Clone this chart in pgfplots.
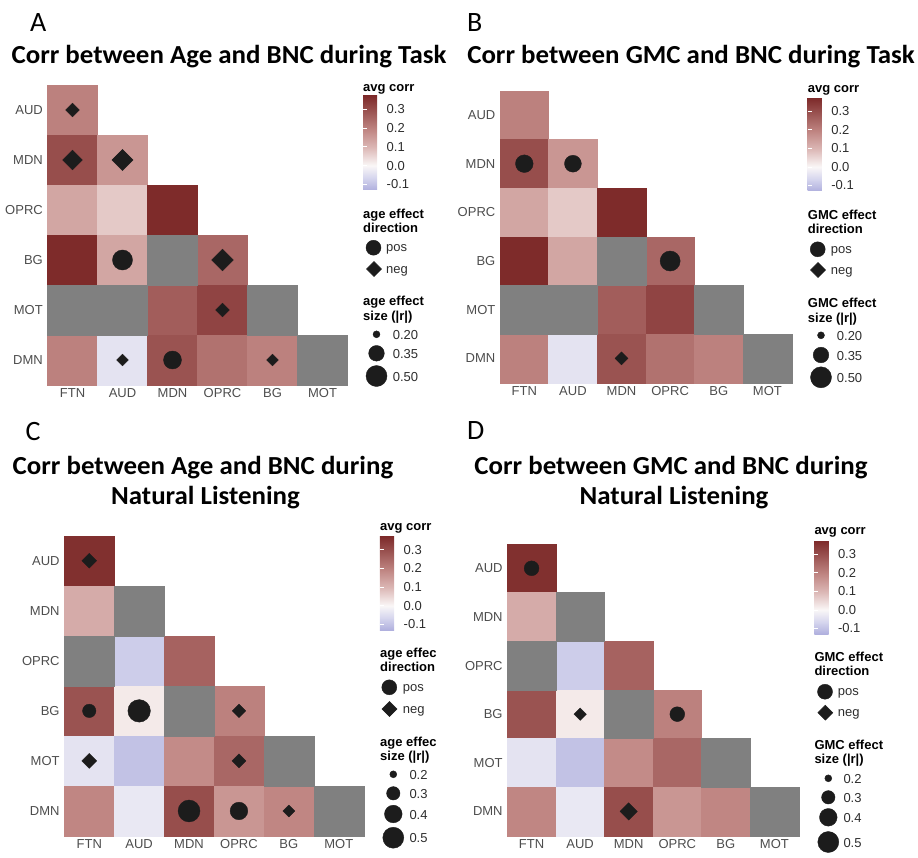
\documentclass[border=0pt]{standalone}
\usepackage{fontspec}
\setmainfont{Liberation Sans}
\newfontfamily\cali{Carlito}
\newfontfamily\calit{Carlito}[FakeStretch=1.035]
\usepackage{pgfplots}
\usepackage{pgfplotstable}
\pgfplotsset{compat=1.18}
\definecolor{mk}{RGB}{28,28,28}
\definecolor{na}{RGB}{128,128,128}
\definecolor{tickc}{RGB}{77,77,77}
\definecolor{legc}{RGB}{45,45,45}
\newcommand{\lab}{\fontsize{13}{15}\selectfont}
\newcommand{\ttl}{\calit\bfseries\fontsize{26}{30}\selectfont}
\newcommand{\letr}{\cali\fontsize{28}{32}\selectfont}

\pgfplotsset{
  colormap={corr}{[1pt] rgb255(0pt)=(176,176,222); rgb255(13pt)=(214,214,238); rgb255(26pt)=(250,247,247); rgb255(45pt)=(220,184,182); rgb255(64pt)=(192,134,131); rgb255(82pt)=(158,88,86); rgb255(101pt)=(124,40,40)},
  hm/.style={
    scale only axis, clip=false, anchor=north west,
    xmin=-0.5, xmax=5.5, ymin=-0.5, ymax=5.5, y dir=reverse,
    axis line style={draw=none}, major tick length=0pt,
    xtick={0,...,5}, ytick={0,...,5},
    xticklabels={FTN,AUD,MDN,OPRC,BG,MOT},
    yticklabels={AUD,MDN,OPRC,BG,MOT,DMN},
    xticklabel style={font=\lab, text=tickc, inner sep=0pt, yshift=-3.5pt},
    yticklabel style={font=\lab, text=tickc, inner sep=0pt, xshift=-4.5pt},
    colormap name=corr, point meta min=-0.13, point meta max=0.375,
    colorbar,
    colorbar style={
      at={(parent axis.north east)}, anchor=north west,
      scale only axis, width=19pt,
      ytick={-0.1,0,0.1,0.2,0.3}, yticklabels={-0.1,0.0,0.1,0.2,0.3},
      tick align=inside, major tick length=4pt, ytick pos=both, yticklabel pos=right,
      yticklabel style={font=\lab, text=legc, inner sep=0pt, xshift=4.5pt},
      tick style={draw=white, line width=0.6pt},
      axis line style={draw=none},
    },
  },
  hcells/.style={only marks, scatter, point meta=\thisrow{v}, mark=square*, mark size=#1,
    scatter/use mapped color={draw=mapped color, fill=mapped color}, mark options={line width=0.3pt}},
  nacells/.style={only marks, mark=square*, mark size=#1, color=na, mark options={line width=0.3pt}},
  sz/.style={only marks, scatter, point meta=\thisrow{s}, scatter/use mapped color={draw=mk, fill=mk},
    visualization depends on={\thisrow{s}\as\es},
    scatter/@pre marker code/.append style={/tikz/mark size={sqrt(49+1306.7*(\es-0.2))/#1}}},
  posm/.style={sz=2, mark=*},
  negm/.style={sz=2.8284, mark=square*, mark options={rotate=45}},
}

\pgfplotstableread{
c r v
0 0 0.20
0 1 0.30
1 1 0.16
0 2 0.13
1 2 0.07
2 2 0.37
0 3 0.37
1 3 0.13
3 3 0.25
2 4 0.27
3 4 0.32
0 5 0.20
1 5 -0.04
2 5 0.29
3 5 0.23
4 5 0.20
}\taskcells
\pgfplotstableread{
c r
2 3
0 4
1 4
4 4
5 5
}\taskna
\pgfplotstableread{
c r v
0 0 0.36
0 1 0.12
1 2 -0.08
2 2 0.26
0 3 0.29
1 3 0.02
3 3 0.20
0 4 -0.04
1 4 -0.10
2 4 0.18
3 4 0.25
0 5 0.19
1 5 -0.03
2 5 0.30
3 5 0.16
4 5 0.19
}\natcells
\pgfplotstableread{
c r
1 1
0 2
2 3
4 4
5 5
}\natna

\begin{document}
\begin{tikzpicture}
\useasboundingbox (0,0) rectangle (918pt,857pt);

% ---------- Panel A ----------
\begin{axis}[hm, at={(47.5pt,772pt)}, width=300pt, height=300pt,
  colorbar style={xshift=6.96pt, yshift=-10pt, height=95pt}]
\addplot[hcells=25pt] table[x=c,y=r] {\taskcells};
\addplot[nacells=25pt] table[x=c,y=r] {\taskna};
\addplot[posm] table[x=c,y=r] {
c r s
1 3 0.47
2 5 0.41
};
\addplot[negm] table[x=c,y=r] {
c r s
0 0 0.31
0 1 0.46
1 1 0.50
3 3 0.52
3 4 0.31
1 5 0.27
4 5 0.27
};
\end{axis}

% ---------- Panel B ----------
\begin{axis}[hm, at={(500pt,766.3pt)}, width=291.7pt, height=292pt,
  colorbar style={xshift=7.46pt, yshift=-6.6pt, height=93.7pt}]
\addplot[hcells=24.33pt] table[x=c,y=r] {\taskcells};
\addplot[nacells=24.33pt] table[x=c,y=r] {\taskna};
\addplot[posm] table[x=c,y=r] {
c r s
0 1 0.40
1 1 0.38
3 3 0.47
};
\addplot[negm] table[x=c,y=r] {
c r s
2 5 0.29
};
\end{axis}

% ---------- Panel C ----------
\begin{axis}[hm, at={(64.3pt,321.3pt)}, width=299.4pt, height=300.3pt,
  colorbar style={xshift=7.76pt, yshift=0pt, height=94.3pt}]
\addplot[hcells=24.97pt] table[x=c,y=r] {\natcells};
\addplot[nacells=24.97pt] table[x=c,y=r] {\natna};
\addplot[posm] table[x=c,y=r] {
c r s
0 3 0.30
1 3 0.55
2 5 0.53
3 5 0.40
};
\addplot[negm] table[x=c,y=r] {
c r s
0 0 0.33
3 3 0.30
0 4 0.33
3 4 0.31
4 5 0.27
};
\end{axis}

% ---------- Panel D ----------
\begin{axis}[hm, at={(507.3pt,313pt)}, width=291.4pt, height=291.7pt,
  colorbar style={xshift=7.06pt, yshift=4pt, height=94pt}]
\addplot[hcells=24.3pt] table[x=c,y=r] {\natcells};
\addplot[nacells=24.3pt] table[x=c,y=r] {\natna};
\addplot[posm] table[x=c,y=r] {
c r s
0 0 0.33
3 3 0.33
};
\addplot[negm] table[x=c,y=r] {
c r s
1 3 0.28
2 5 0.39
};
\end{axis}

% ---------- overlay: titles and legends ----------
\begin{axis}[at={(0pt,0pt)}, anchor=south west, scale only axis, width=918pt, height=857pt,
  xmin=0, xmax=918, ymin=0, ymax=857, y dir=reverse, hide axis, clip=false]
% direction keys
\addplot[only marks, mark=*, mark size=7.5pt, mk] coordinates {(373.5,247.7) (817.7,249.3) (389.3,687.3) (825,691.7)};
\addplot[only marks, mark=square*, mark size=5.3pt, mark options={rotate=45}, mk] coordinates {(374,269) (818,270) (389.5,709) (825.3,712.7)};
% size keys
\addplot[posm] table[x=x,y=y] {
x y s
376.5 334.3 0.20
376.5 353.3 0.35
376.5 376.0 0.50
821 335.3 0.20
821 355.0 0.35
821 377.3 0.50
393.3 774.3 0.2
393.3 793.3 0.3
393.3 814.0 0.4
393.3 837.7 0.5
828.3 778.3 0.2
828.3 797.3 0.3
828.3 817.3 0.4
828.3 842.0 0.5
};
% panel letters and titles
\node[anchor=base west, inner sep=0pt, font=\letr] at (axis cs:30,31.7) {A};
\node[anchor=base west, inner sep=0pt, font=\letr] at (axis cs:467,31.7) {B};
\node[anchor=base west, inner sep=0pt, font=\letr] at (axis cs:25.5,440) {C};
\node[anchor=base west, inner sep=0pt, font=\letr] at (axis cs:467,439) {D};
\node[anchor=base, inner sep=0pt, font=\ttl] at (axis cs:229,63.5) {Corr between Age and BNC during Task};
\node[anchor=base, inner sep=0pt, font=\ttl] at (axis cs:691,63.5) {Corr between GMC and BNC during Task};
\node[anchor=base, inner sep=0pt, font=\ttl] at (axis cs:203,474) {Corr between Age and BNC during};
\node[anchor=base, inner sep=0pt, font=\ttl] at (axis cs:205.5,504) {Natural Listening};
\node[anchor=base, inner sep=0pt, font=\ttl] at (axis cs:671,474) {Corr between GMC and BNC during};
\node[anchor=base, inner sep=0pt, font=\ttl] at (axis cs:674,504) {Natural Listening};
% legend texts
\begin{scope}[every node/.style={anchor=base west, inner sep=0pt, font=\lab, text=legc}]
% A
\node[font=\lab\bfseries, text=black] at (axis cs:363,91) {avg corr};
\node[font=\lab\bfseries, text=black] at (axis cs:363,218.3) {age effect};
\node[font=\lab\bfseries, text=black] at (axis cs:363,232.3) {direction};
\node at (axis cs:386,251.7) {pos};
\node at (axis cs:386,273) {neg};
\node[font=\lab\bfseries, text=black] at (axis cs:363,305) {age effect};
\node[font=\lab\bfseries, text=black] at (axis cs:363,320) {size (|r|)};
\node at (axis cs:392.7,339.5) {0.20};
\node at (axis cs:392.7,358.3) {0.35};
\node at (axis cs:392.7,381) {0.50};
% B
\node[font=\lab\bfseries, text=black] at (axis cs:807.7,92.3) {avg corr};
\node[font=\lab\bfseries, text=black] at (axis cs:807.7,219.3) {GMC effect};
\node[font=\lab\bfseries, text=black] at (axis cs:807.7,233.7) {direction};
\node at (axis cs:830.7,253.5) {pos};
\node at (axis cs:830.7,274.3) {neg};
\node[font=\lab\bfseries, text=black] at (axis cs:807.7,307.3) {GMC effect};
\node[font=\lab\bfseries, text=black] at (axis cs:807.7,322) {size (|r|)};
\node at (axis cs:836.7,340.3) {0.20};
\node at (axis cs:836.7,360) {0.35};
\node at (axis cs:836.7,382.3) {0.50};
% C
\node[font=\lab\bfseries, text=black] at (axis cs:380,530.5) {avg corr};
\node[font=\lab\bfseries, text=black] at (axis cs:380,657.7) {age effec};
\node[font=\lab\bfseries, text=black] at (axis cs:380,671.7) {direction};
\node at (axis cs:402.7,691.3) {pos};
\node at (axis cs:402.7,713) {neg};
\node[font=\lab\bfseries, text=black] at (axis cs:380,746) {age effec};
\node[font=\lab\bfseries, text=black] at (axis cs:380,760) {size (|r|)};
\node at (axis cs:409.3,779.3) {0.2};
\node at (axis cs:409.3,798.3) {0.3};
\node at (axis cs:409.3,819) {0.4};
\node at (axis cs:409.3,842.7) {0.5};
% D
\node[font=\lab\bfseries, text=black] at (axis cs:814.3,534) {avg corr};
\node[font=\lab\bfseries, text=black] at (axis cs:814.3,661) {GMC effect};
\node[font=\lab\bfseries, text=black] at (axis cs:814.3,675.3) {direction};
\node at (axis cs:837.7,695.7) {pos};
\node at (axis cs:837.7,716.7) {neg};
\node[font=\lab\bfseries, text=black] at (axis cs:814.3,749.3) {GMC effect};
\node[font=\lab\bfseries, text=black] at (axis cs:814.3,763.7) {size (|r|)};
\node at (axis cs:843.3,783.3) {0.2};
\node at (axis cs:843.3,802.3) {0.3};
\node at (axis cs:843.3,822.3) {0.4};
\node at (axis cs:843.3,847) {0.5};
\end{scope}
\end{axis}
\end{tikzpicture}
\end{document}
